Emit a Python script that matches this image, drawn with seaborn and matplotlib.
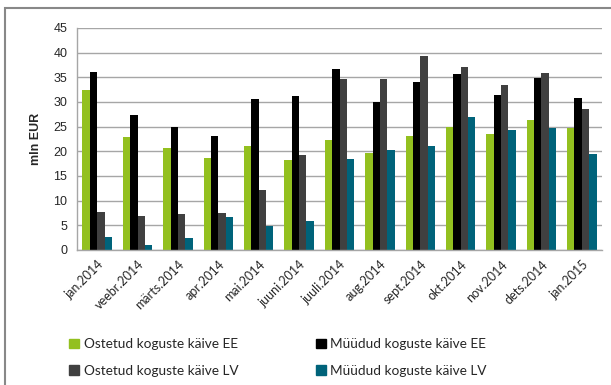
import matplotlib
matplotlib.use("Agg")
import matplotlib.pyplot as plt
import matplotlib.patches as mpatches
import seaborn as sns
import pandas as pd
import numpy as np

months = ["jan.2014", "veebr.2014", "märts.2014", "apr.2014", "mai.2014", "juuni.2014",
          "juuli.2014", "aug.2014", "sept.2014", "okt.2014", "nov.2014", "dets.2014", "jan.2015"]
series_names = ["Ostetud koguste käive EE", "Müüdud koguste käive EE",
                "Ostetud koguste käive LV", "Müüdud koguste käive LV"]
ostetud_ee = [32.4, 22.9, 20.6, 18.6, 21.1, 18.2, 22.2, 19.7, 23.1, 25.0, 23.5, 26.4, 24.8]
muudud_ee = [36.0, 27.3, 25.0, 23.1, 30.6, 31.3, 36.6, 30.1, 34.1, 35.6, 31.4, 34.8, 30.8]
ostetud_lv = [7.8, 6.9, 7.3, 7.6, 12.2, 19.3, 34.6, 34.6, 39.4, 37.0, 33.5, 35.8, 28.6]
muudud_lv = [2.7, 1.1, 2.4, 6.7, 4.9, 5.8, 18.4, 20.2, 21.0, 27.0, 24.3, 24.8, 19.5]
colors = ["#93C01F", "#000000", "#404040", "#00637A"]

rows = []
for name, vals in zip(series_names, [ostetud_ee, muudud_ee, ostetud_lv, muudud_lv]):
    for m, v in zip(months, vals):
        rows.append({"kuu": m, "seeria": name, "väärtus": v})
df = pd.DataFrame(rows)

sns.set_style("white")
fig = plt.figure(figsize=(6.11, 3.85), dpi=100)
ax = fig.add_axes([77/611, 1-250/385, 525/611, 222/385])

sns.barplot(data=df, x="kuu", y="väärtus", hue="seeria", palette=colors,
            width=0.73, saturation=1, ax=ax, legend=False, edgecolor="none")

ax.set_ylim(0, 45)
ax.set_yticks(range(0, 46, 5))
ax.set_xlim(-0.5, len(months) - 0.5)
ax.yaxis.grid(True, color="#A6A6A6", linewidth=1)
ax.set_axisbelow(True)
for s in ["top", "right"]:
    ax.spines[s].set_visible(False)
for s in ["left", "bottom"]:
    ax.spines[s].set_color("#A6A6A6")
    ax.spines[s].set_linewidth(1)

ax.set_xticks(range(len(months)))
ax.set_xticklabels(months, rotation=45, ha="right", rotation_mode="anchor",
                   fontsize=9, family="Lato")
ax.set_xticks(np.arange(-0.5, len(months), 1), minor=True)
ax.tick_params(axis="x", which="major", length=0, pad=6)
ax.tick_params(axis="x", which="minor", length=5, color="#A6A6A6", direction="out")
ax.tick_params(axis="y", length=4, color="#A6A6A6", labelsize=9, pad=3)
for t in ax.get_yticklabels():
    t.set_family("Liberation Sans")
ax.set_xlabel("")
ax.set_ylabel("mln EUR", fontsize=9, fontweight="bold", labelpad=8, family="Liberation Sans")

# frame around the chart area
fig.patches.append(mpatches.Rectangle((5/611, -0.1), 1.2, 1 - 8/385 + 0.1,
                                      transform=fig.transFigure, fill=False,
                                      edgecolor="#888888", linewidth=1.5))

handles = [mpatches.Patch(color=c, label=n) for c, n in zip(colors, series_names)]
order = [0, 2, 1, 3]
fig.legend(handles=[handles[i] for i in order], ncol=2, loc="upper left",
           bbox_to_anchor=(57/611, 1-326/385), frameon=False,
           prop={"family": "Lato", "size": 9.8}, handlelength=0.75, handleheight=0.75,
           handletextpad=0.3, columnspacing=5.7, labelspacing=1.05)

fig.savefig("out.png", dpi=100)
